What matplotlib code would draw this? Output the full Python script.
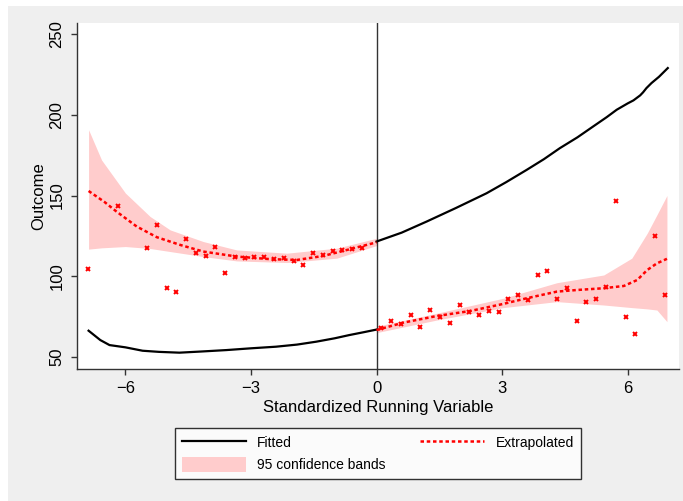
import matplotlib.pyplot as plt
from matplotlib.patches import Rectangle
from matplotlib.lines import Line2D
from matplotlib.patches import Patch

plt.rcParams['font.family'] = ['Liberation Sans', 'DejaVu Sans']

# binned scatter, left of cutoff
left_x = [-6.883, -6.183, -5.483, -5.25, -5.017, -4.783, -4.55, -4.317, -4.083, -3.85,
          -3.617, -3.383, -3.15, -2.917, -2.683, -2.45, -2.217, -1.983, -1.75, -1.517,
          -1.283, -1.05, -0.817, -0.583, -0.35]
left_y = [104.5, 143.6, 117.4, 132.0, 92.6, 90.5, 123.0, 114.7, 112.6, 118.4,
          102.3, 112.2, 111.2, 111.8, 111.8, 110.8, 111.2, 109.7, 107.0, 114.5,
          113.0, 115.8, 116.3, 116.8, 117.3]

# binned scatter, right of cutoff
right_x = [0.117, 0.35, 0.583, 0.817, 1.05, 1.283, 1.517, 1.75, 1.983, 2.217,
           2.45, 2.683, 2.917, 3.15, 3.383, 3.617, 3.85, 4.083, 4.317, 4.55,
           4.783, 5.017, 5.25, 5.483, 5.717, 5.95, 6.183, 6.65, 6.883]
right_y = [68.2, 72.3, 70.5, 76.0, 68.4, 79.1, 74.6, 71.3, 82.2, 78.1,
           76.2, 78.3, 77.9, 85.8, 88.3, 85.2, 100.7, 103.0, 86.2, 93.0,
           72.1, 84.3, 85.8, 93.6, 146.9, 74.6, 64.1, 125.0, 88.5]

# fitted lines
fit_left_x = [-6.88, -6.6, -6.38, -6.0, -5.59, -5.2, -4.71, -4.2, -3.59, -3.0,
              -2.4, -1.9, -1.44, -1.0, -0.65, -0.3, 0.0]
fit_left_y = [66.3, 60.5, 57.4, 56.0, 53.9, 53.2, 52.7, 53.4, 54.3, 55.4,
              56.4, 57.7, 59.5, 61.6, 63.6, 65.4, 67.0]
fit_right_x = [0.0, 0.6, 1.2, 1.9, 2.63, 3.1, 3.59, 4.0, 4.38, 4.8, 5.18,
               5.5, 5.74, 6.0, 6.14, 6.3, 6.37, 6.45, 6.57, 6.75, 6.96]
fit_right_y = [121.5, 127.0, 133.9, 142.3, 151.4, 158.3, 165.9, 172.5, 179.3, 186.0, 192.8,
               198.5, 203.1, 207.0, 208.9, 212.0, 213.9, 216.5, 219.6, 223.5, 228.9]

# extrapolated lines
ext_left_x = [-6.88, -6.5, -6.21, -5.73, -5.25, -4.69, -4.14, -3.34, -2.54, -1.9,
              -1.27, -0.63, 0.0]
ext_left_y = [152.8, 146.0, 140.0, 130.8, 124.2, 119.4, 115.3, 112.2, 110.6, 110.1,
              112.6, 116.8, 121.0]
ext_right_x = [0.0, 0.64, 1.44, 2.24, 3.03, 3.59, 4.31, 4.79, 5.43, 5.91, 6.23,
               6.47, 6.7, 6.94]
ext_right_y = [66.7, 71.3, 75.4, 78.5, 82.9, 86.4, 90.5, 91.5, 92.6, 94.0, 97.7,
               103.9, 108.0, 110.8]

# confidence bands
band_left_x = [-6.88, -6.57, -6.0, -5.41, -4.93, -4.14, -3.34, -2.14, -0.95, 0.0]
band_left_hi = [190.7, 172.0, 151.5, 137.0, 128.7, 121.5, 116.3, 114.3, 117.4, 123.5]
band_left_lo = [116.8, 117.6, 118.4, 117.2, 115.3, 112.2, 109.5, 108.5, 111.2, 119.0]
band_right_x = [0.0, 1.44, 3.03, 4.31, 5.43, 6.1, 6.47, 6.7, 6.94]
band_right_hi = [69.0, 77.1, 86.4, 96.0, 100.8, 111.2, 126.7, 138.0, 150.0]
band_right_lo = [65.1, 72.9, 80.6, 84.3, 82.2, 80.6, 79.8, 79.1, 71.9]

band_col = '#ffcccc'
red = '#ff0000'
dash = (0, (1.4, 1.1))

fig = plt.figure(figsize=(6.83, 5.01), dpi=100)
fig.patch.set_facecolor('white')
fig.patches.append(Rectangle((8 / 683, 0), 1, 1 - 6 / 501, transform=fig.transFigure,
                             facecolor='#efefef', edgecolor='none', zorder=-10))

ax = fig.add_axes([77 / 683, 1 - 368.5 / 501, 602 / 683, 345.5 / 501])
ax.set_facecolor('white')

ax.fill_between(band_left_x, band_left_lo, band_left_hi, color=band_col, lw=0, zorder=1)
ax.fill_between(band_right_x, band_right_lo, band_right_hi, color=band_col, lw=0, zorder=1)

ax.plot(fit_left_x, fit_left_y, color='black', lw=1.6, zorder=3)
ax.plot(fit_right_x, fit_right_y, color='black', lw=1.6, zorder=3)

ax.plot(ext_left_x, ext_left_y, color=red, lw=1.8, ls=dash, zorder=3)
ax.plot(ext_right_x, ext_right_y, color=red, lw=1.8, ls=dash, zorder=3)

ax.plot(left_x, left_y, ls='none', marker='x', ms=3.5, mew=1.4, color=red, zorder=4)
ax.plot(right_x, right_y, ls='none', marker='x', ms=3.5, mew=1.4, color=red, zorder=4)

ax.axvline(0, color='#333333', lw=1.0, zorder=2)

ax.set_xlim(-7.157, 7.228)
ax.set_ylim(42.9, 256.8)
ax.set_xticks([-6, -3, 0, 3, 6])
ax.set_yticks([50, 100, 150, 200, 250])

for side in ['top', 'right']:
    ax.spines[side].set_visible(False)
for side in ['left', 'bottom']:
    ax.spines[side].set_color('#333333')
    ax.spines[side].set_linewidth(1.0)

ax.tick_params(axis='both', direction='out', length=4, width=1, color='#333333',
               labelsize=12, pad=5)
ax.tick_params(axis='y', labelrotation=90)
for lbl in ax.get_yticklabels():
    lbl.set_va('center')

ax.set_xlabel('Standardized Running Variable', fontsize=12, labelpad=3)
ax.set_ylabel('Outcome', fontsize=12, labelpad=2)

handles = [Line2D([], [], color='black', lw=1.6),
           Patch(facecolor=band_col, edgecolor='none'),
           Line2D([], [], color=red, lw=1.8, ls=dash)]
labels = ['Fitted', '95 confidence bands', 'Extrapolated']
leg = fig.legend(handles, labels, ncol=2, loc='center',
                 bbox_to_anchor=(378 / 683, 1 - 453.5 / 501),
                 fontsize=10, frameon=True, fancybox=False, edgecolor='black',
                 handlelength=4.6, handleheight=1.3, handletextpad=0.8,
                 columnspacing=2.5, labelspacing=0.5, borderpad=0.5)
leg.get_frame().set_linewidth(1.0)

plt.savefig('out.png', dpi=100, facecolor=fig.get_facecolor())
plt.close()
